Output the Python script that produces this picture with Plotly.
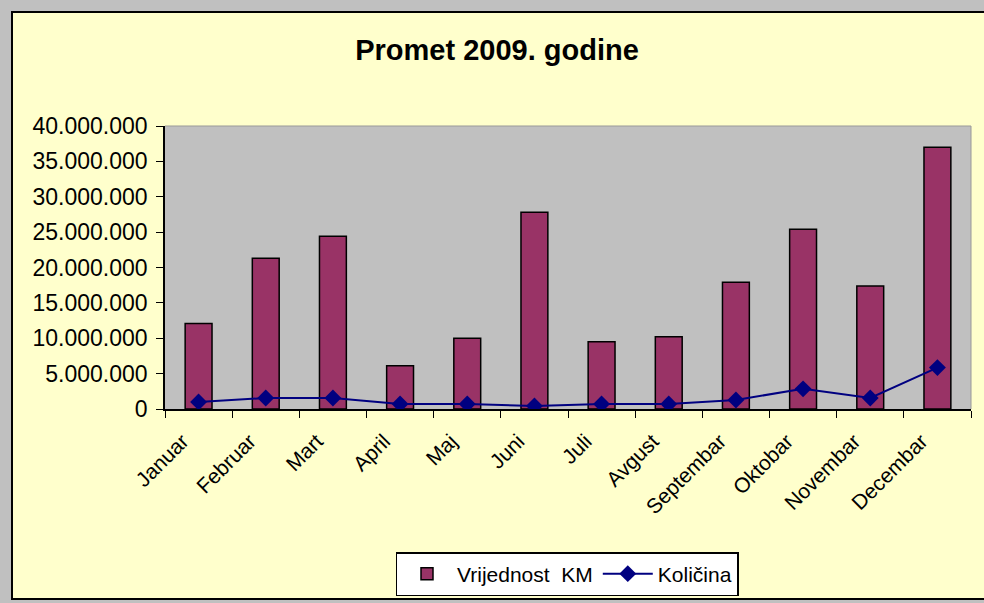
import plotly.graph_objects as go

# data
months = ["Januar", "Februar", "Mart", "April", "Maj", "Juni", "Juli",
          "Avgust", "Septembar", "Oktobar", "Novembar", "Decembar"]
vrijednost_km = [12100000, 21300000, 24400000, 6100000, 10000000, 27800000,
                 9500000, 10200000, 17900000, 25400000, 17400000, 37000000]
kolicina = [1000000, 1550000, 1550000, 700000, 700000, 430000,
            700000, 700000, 1280000, 2850000, 1550000, 5850000]
y_ticks = [0, 5000000, 10000000, 15000000, 20000000, 25000000,
           30000000, 35000000, 40000000]

W, H = 984, 603
PL, PR, PT, PB = 165, 971, 126, 409   # plot area in pixels
pw, ph = PR - PL, PB - PT
L, T = PL, PT
R, B = W - L - pw, H - T - ph


def px_x(x):
    return (x - PL) / pw


def px_y(y):
    return (PB - y) / ph


font = "Liberation Sans, Arial, sans-serif"
grey = "#C0C0C0"

fig = go.Figure()
fig.add_trace(go.Bar(
    x=months, y=vrijednost_km, name="Vrijednost  KM",
    marker=dict(color="#993366", line=dict(color="black", width=1.5)),
))
fig.add_trace(go.Scatter(
    x=months, y=kolicina, name="Količina", mode="lines+markers",
    line=dict(color="#000080", width=2),
    marker=dict(symbol="diamond", size=13, color="#000080"),
))

# grey page edges around the yellow chart area, plus its black frame
for x0, x1, y0, y1 in [(-30, 1010, -30, 12), (-30, 12, -30, 640),
                       (-30, 1010, 599, 640)]:
    fig.add_shape(type="rect", xref="paper", yref="paper", layer="below",
                  x0=px_x(x0), x1=px_x(x1), y0=px_y(y1), y1=px_y(y0),
                  fillcolor=grey, line=dict(width=0))
fig.add_shape(type="rect", xref="paper", yref="paper", layer="below",
              x0=px_x(12), x1=px_x(1000), y0=px_y(599), y1=px_y(12),
              line=dict(color="black", width=2))
# faint darker rim on top and right of the plot area
fig.add_shape(type="line", xref="paper", yref="paper", x0=0, x1=1, y0=1, y1=1,
              line=dict(color="#999999", width=1))
fig.add_shape(type="line", xref="paper", yref="paper", x0=1, x1=1, y0=0, y1=1,
              line=dict(color="#999999", width=1))

fig.update_layout(
    width=W, height=H,
    margin=dict(l=L, r=R, t=T, b=B, autoexpand=False),
    paper_bgcolor="#FFFFCC",
    plot_bgcolor=grey,
    separators=",.",
    bargap=0.6,
    font=dict(family=font, size=21, color="black"),
    title=dict(text="<b>Promet 2009. godine</b>", x=497 / W,
               xanchor="center", y=1 - 50 / H, yanchor="middle",
               font=dict(size=29, family=font)),
    legend=dict(orientation="h", x=px_x(567), xanchor="center",
                y=px_y(552), yanchor="top", bgcolor="white",
                bordercolor="black", borderwidth=1.5, itemwidth=50,
                font=dict(size=21, family=font)),
    showlegend=True,
)
fig.update_xaxes(
    type="category", range=[-0.5, len(months) - 0.5],
    tickangle=-45, tickson="boundaries",
    ticks="outside", ticklen=7, tickcolor="black", tickwidth=1,
    showline=True, linecolor="black", linewidth=1.5, showgrid=False,
    tickfont=dict(size=21), ticklabelstandoff=10, ticklabelshift=-16,
)
fig.update_yaxes(
    range=[0, 40000000], tickvals=y_ticks, tickformat=",d",
    ticks="outside", ticklen=7, tickcolor="black", tickwidth=1,
    showline=True, linecolor="black", linewidth=1.5, showgrid=False,
    zeroline=False, tickfont=dict(size=23), ticklabelstandoff=4,
)

fig.write_html("out.html", config={"displayModeBar": False},
               post_script="document.body.style.margin='0';")
